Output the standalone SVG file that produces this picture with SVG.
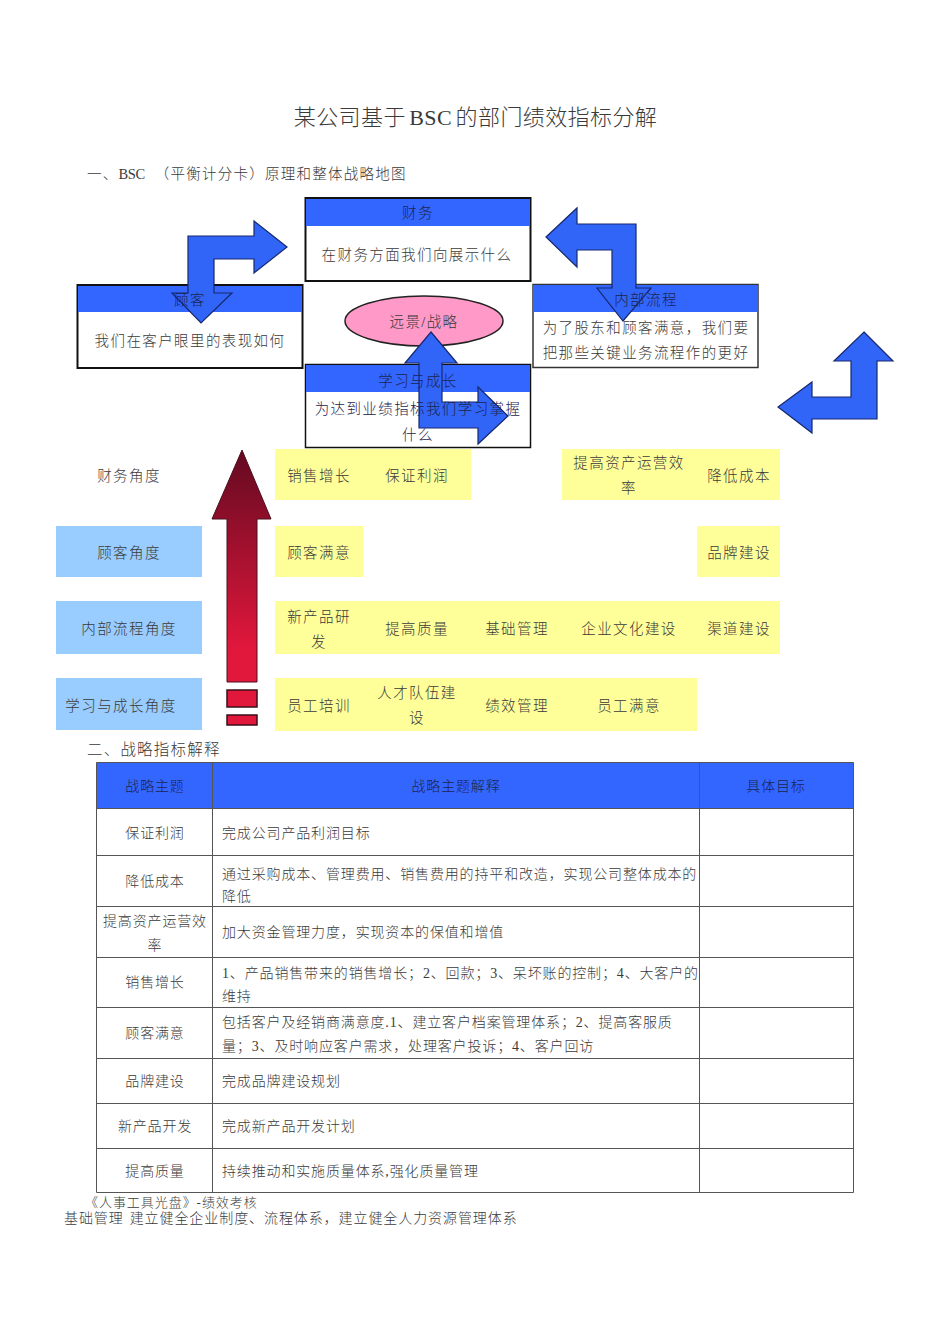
<svg xmlns="http://www.w3.org/2000/svg" width="950" height="1344" viewBox="0 0 950 1344">
<style>
text{font-family:"Liberation Serif","Noto Sans CJK SC",serif;fill:#3a3a3a;font-weight:300}
.c{text-anchor:middle}
.d{font-size:14.5px;letter-spacing:1.4px}
.t{font-size:14px;letter-spacing:.85px}
.k{fill:#1c2450}
.h{fill:#3366ff}
.b{fill:#fff;stroke:#111;stroke-width:2}
.y{fill:#ffff99}
.l{fill:#99ccff}
.a{fill:#3165f8;stroke:#16286e;stroke-width:1.200}
.g{fill:none;stroke:#555;stroke-width:1}
</style>
<defs>
<linearGradient id="red" gradientUnits="userSpaceOnUse" x1="0" y1="450" x2="0" y2="650">
<stop offset="0" stop-color="#630a20"/><stop offset="1" stop-color="#e2173c"/>
</linearGradient>
</defs>
<text id="title" class="c" x="475.500" y="125" style="font-size:22px;letter-spacing:.4px">某公司基于<tspan dx="3.500">BSC</tspan><tspan dx="3.500">的部门绩效指标分解</tspan></text>
<text id="h1" x="87" y="179" style="font-size:14.500px;letter-spacing:1.250px">一、<tspan style="font-size:14.500px;letter-spacing:-.4px">BSC</tspan><tspan dx="10">（平衡计分卡）原理和整体战略地图</tspan></text>

<g id="node-finance"><rect class="b" x="305.500" y="198" width="225" height="83"/><rect class="h" x="306" y="199" width="224" height="27"/>
<text class="c d k" x="418" y="218">财务</text><text class="c d" x="417" y="260">在财务方面我们向展示什么</text></g>
<g id="node-customer"><rect class="b" x="77.500" y="285" width="225" height="83"/><rect class="h" x="78" y="286" width="224" height="26"/>
<text class="c d" x="190" y="346">我们在客户眼里的表现如何</text></g>
<g id="node-process"><rect class="b" x="533" y="284.500" width="225" height="83" style="stroke:#333;stroke-width:1.500"/><rect class="h" x="533" y="285" width="224" height="27"/></g>
<g id="node-vision"><ellipse cx="424" cy="321" rx="79" ry="25" fill="#ff99c8" stroke="#222" stroke-width="1.500"/><text class="c d" x="424" y="327">远景/战略</text></g>
<g id="node-learning"><rect class="b" x="305.500" y="364.500" width="225" height="83" style="stroke-width:1.500"/><rect class="h" x="306" y="365" width="224" height="27"/></g>

<g id="connectors">
<polygon class="a" points="287,247 254,221 254,236 188,236 188,293 172,293 201,323 232,293 214,293 214,259 254,259 254,273"/>
<polygon class="a" points="546,237 577,208 577,224 636,224 636,288 651,288 623,321 597,288 612,288 612,250 577,250 577,267"/>
<polygon class="a" points="864,332 893,361 877,361 877,419 812,419 812,433 778,407 812,382 812,397 851,397 851,361 834,361"/>
<polygon class="a" points="431,332 457,363 442,363 442,402 478,402 478,387 508,416 478,444 478,428 419,428 419,363 405,363"/>
<polygon points="242,450 271,519 257,519 257,682 227,682 227,519 212,519" fill="url(#red)" stroke="#4a1020" stroke-width="1"/>
<rect x="227" y="690" width="30" height="17" fill="#e2173c" stroke="#3a1018" stroke-width="1.500"/>
<rect x="227" y="715" width="30" height="10" fill="#e2173c" stroke="#3a1018" stroke-width="1.500"/>
</g>

<g id="label-customer"><text class="c d k" x="190" y="305">顾客</text></g>
<g id="label-process"><text class="c d k" x="646" y="305">内部流程</text><text class="c d" x="646" y="333">为了股东和顾客满意，我们要</text><text class="c d" x="646" y="358">把那些关键业务流程作的更好</text></g>
<g id="label-learning"><text class="c d k" x="418" y="386">学习与成长</text><text class="c d k" x="418" y="414">为达到业绩指标我们学习掌握</text><text class="c d k" x="418" y="440">什么</text></g>

<g id="axis-labels">
<g id="axis-finance"><text class="c d" x="129" y="481">财务角度</text></g>
<g id="axis-customer"><rect class="l" x="56" y="526" width="146" height="51"/><text class="c d" x="129" y="558">顾客角度</text></g>
<g id="axis-process"><rect class="l" x="56" y="601" width="146" height="53"/><text class="c d" x="129" y="634">内部流程角度</text></g>
<g id="axis-learning"><rect class="l" x="56" y="678" width="146" height="52"/><text class="c d" x="121" y="711">学习与成长角度</text></g>
</g>

<g id="goals">
<rect class="y" x="275" y="449" width="196" height="51"/><rect class="y" x="562" y="449" width="218" height="51"/>
<rect class="y" x="275" y="526" width="88" height="51"/><rect class="y" x="697" y="526" width="83" height="51"/>
<rect class="y" x="275" y="601" width="505" height="53"/><rect class="y" x="275" y="678" width="422" height="53"/>
<text class="c d" x="319" y="481">销售增长</text><text class="c d" x="417" y="481">保证利润</text>
<text class="c d" x="629" y="468">提高资产运营效</text><text class="c d" x="629" y="493">率</text><text class="c d" x="739" y="481">降低成本</text>
<text class="c d" x="319" y="558">顾客满意</text><text class="c d" x="739" y="558">品牌建设</text>
<text class="c d" x="319" y="622">新产品研</text><text class="c d" x="319" y="647">发</text>
<text class="c d" x="417" y="634">提高质量</text><text class="c d" x="517" y="634">基础管理</text><text class="c d" x="629" y="634">企业文化建设</text><text class="c d" x="739" y="634">渠道建设</text>
<text class="c d" x="319" y="711">员工培训</text><text class="c d" x="417" y="698">人才队伍建</text><text class="c d" x="417" y="723">设</text>
<text class="c d" x="517" y="711">绩效管理</text><text class="c d" x="629" y="711">员工满意</text>
</g>

<text id="h2" x="87" y="755" style="font-size:15.500px;letter-spacing:1.200px">二、战略指标解释</text>

<g id="table">
<rect class="h" x="96.500" y="762.500" width="757" height="46"/>
<path class="g" d="M96.500 762.500H853.500V1192.500H96.500ZM212.500 762.500V1192.500M699.500 762.500V1192.500M96.500 808.500H853.500M96.500 855.500H853.500M96.500 906.500H853.500M96.500 957.500H853.500M96.500 1007.500H853.500M96.500 1058.500H853.500M96.500 1103.500H853.500M96.500 1148.500H853.500"/>
<text class="c t k" x="155" y="791">战略主题</text><text class="c t k" x="456" y="791">战略主题解释</text><text class="c t k" x="776" y="791">具体目标</text>
<text class="c t" x="155" y="838">保证利润</text><text class="t" x="222" y="838">完成公司产品利润目标</text>
<text class="c t" x="155" y="886">降低成本</text><text class="t" x="222" y="879">通过采购成本、管理费用、销售费用的持平和改造，实现公司整体成本的</text><text class="t" x="222" y="901">降低</text>
<text class="c t" x="155" y="926">提高资产运营效</text><text class="c t" x="155" y="950">率</text><text class="t" x="222" y="937">加大资金管理力度，实现资本的保值和增值</text>
<text class="c t" x="155" y="987">销售增长</text><text class="t" x="222" y="978">1、产品销售带来的销售增长；2、回款；3、呆坏账的控制；4、大客户的</text><text class="t" x="222" y="1001">维持</text>
<text class="c t" x="155" y="1038">顾客满意</text><text class="t" x="222" y="1027">包括客户及经销商满意度.1、建立客户档案管理体系；2、提高客服质</text><text class="t" x="222" y="1051">量；3、及时响应客户需求，处理客户投诉；4、客户回访</text>
<text class="c t" x="155" y="1086">品牌建设</text><text class="t" x="222" y="1086">完成品牌建设规划</text>
<text class="c t" x="155" y="1131">新产品开发</text><text class="t" x="222" y="1131">完成新产品开发计划</text>
<text class="c t" x="155" y="1176">提高质量</text><text class="t" x="222" y="1176">持续推动和实施质量体系,强化质量管理</text>
</g>

<text id="f1" x="85" y="1207" style="font-size:13px;letter-spacing:.95px">《人事工具光盘》-绩效考核</text>
<text id="f2" x="64" y="1223" style="font-size:14px;letter-spacing:.92px">基础管理<tspan dx="6">建立健全企业制度、流程体系，建立健全人力资源管理体系</tspan></text>
</svg>
